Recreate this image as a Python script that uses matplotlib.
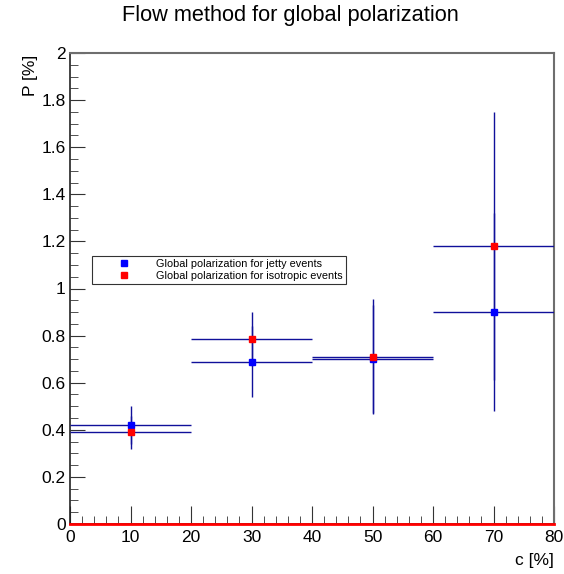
import matplotlib
matplotlib.use("Agg")
import matplotlib.pyplot as plt
from matplotlib.ticker import MultipleLocator
from matplotlib.lines import Line2D

plt.rcParams['font.family'] = ['Liberation Sans', 'DejaVu Sans']

centrality = [10, 30, 50, 70]
x_err = [10, 10, 10, 10]
jetty_vals = [0.42, 0.69, 0.70, 0.90]
jetty_errs = [0.08, 0.15, 0.23, 0.42]
iso_vals = [0.39, 0.785, 0.71, 1.18]
iso_errs = [0.07, 0.115, 0.245, 0.57]
labels = ["Global polarization for jetty events", "Global polarization for isotropic events"]
ytick_vals = [0, 0.2, 0.4, 0.6, 0.8, 1.0, 1.2, 1.4, 1.6, 1.8, 2.0]
ytick_labels = ['0', '0.2', '0.4', '0.6', '0.8', '1', '1.2', '1.4', '1.6', '1.8', '2']

fig = plt.figure(figsize=(5.64, 5.74), dpi=100)
ax = fig.add_axes([70/564, 50/574, 484/564, 471/574])

ecol = '#10109a'
ax.errorbar(centrality, jetty_vals, xerr=x_err, yerr=jetty_errs, fmt='s', color='#0000ff',
            ecolor=ecol, elinewidth=1.0, capsize=0, ms=5, mec='#0000ff', zorder=3)
ax.errorbar(centrality, iso_vals, xerr=x_err, yerr=iso_errs, fmt='s', color='#ff0000',
            ecolor=ecol, elinewidth=1.0, capsize=0, ms=5, mec='#ff0000', zorder=3)
ax.axhline(0, color='#ff0000', lw=2, zorder=4, clip_on=False)

ax.set_xlim(0, 80)
ax.set_ylim(0, 2)
ax.xaxis.set_major_locator(MultipleLocator(10))
ax.xaxis.set_minor_locator(MultipleLocator(2))
ax.set_yticks(ytick_vals)
ax.set_yticklabels(ytick_labels)
ax.yaxis.set_minor_locator(MultipleLocator(0.05))
ax.tick_params(which='both', direction='in', top=False, right=False, labelsize=12.5, color='#333333')
ax.tick_params(axis='y', which='major', length=11, pad=3)
ax.tick_params(axis='y', which='minor', length=6)
ax.tick_params(axis='x', which='major', length=13, pad=4)
ax.tick_params(axis='x', which='minor', length=6)
for s in ['top', 'right']:
    ax.spines[s].set_color('#6e6e6e')
    ax.spines[s].set_linewidth(1.5)
for s in ['left', 'bottom']:
    ax.spines[s].set_color('#222222')
    ax.spines[s].set_linewidth(1.2)

fig.text(290/564, 1 - 16/574, "Flow method for global polarization", ha='center', va='center', fontsize=15.7)
fig.text(554/564, 1 - 561/574, "c [%]", ha='right', va='center', fontsize=12.5)
fig.text(30/564, 1 - 55/574, "P [%]", ha='center', va='top', rotation=90, fontsize=12.5)

handles = [Line2D([], [], ls='none', marker='s', color='#0000ff', ms=4.5),
           Line2D([], [], ls='none', marker='s', color='#ff0000', ms=4.5)]
leg = ax.legend(handles=handles, labels=labels, loc='upper left',
                bbox_to_anchor=((92-70)/484, (524-256)/471), fontsize=7.85,
                frameon=True, fancybox=False, edgecolor='black', borderpad=0.28,
                handletextpad=0.2, handlelength=5.4, labelspacing=0.18, borderaxespad=0)
leg.get_frame().set_linewidth(0.8)

fig.savefig("out.png", dpi=100)
